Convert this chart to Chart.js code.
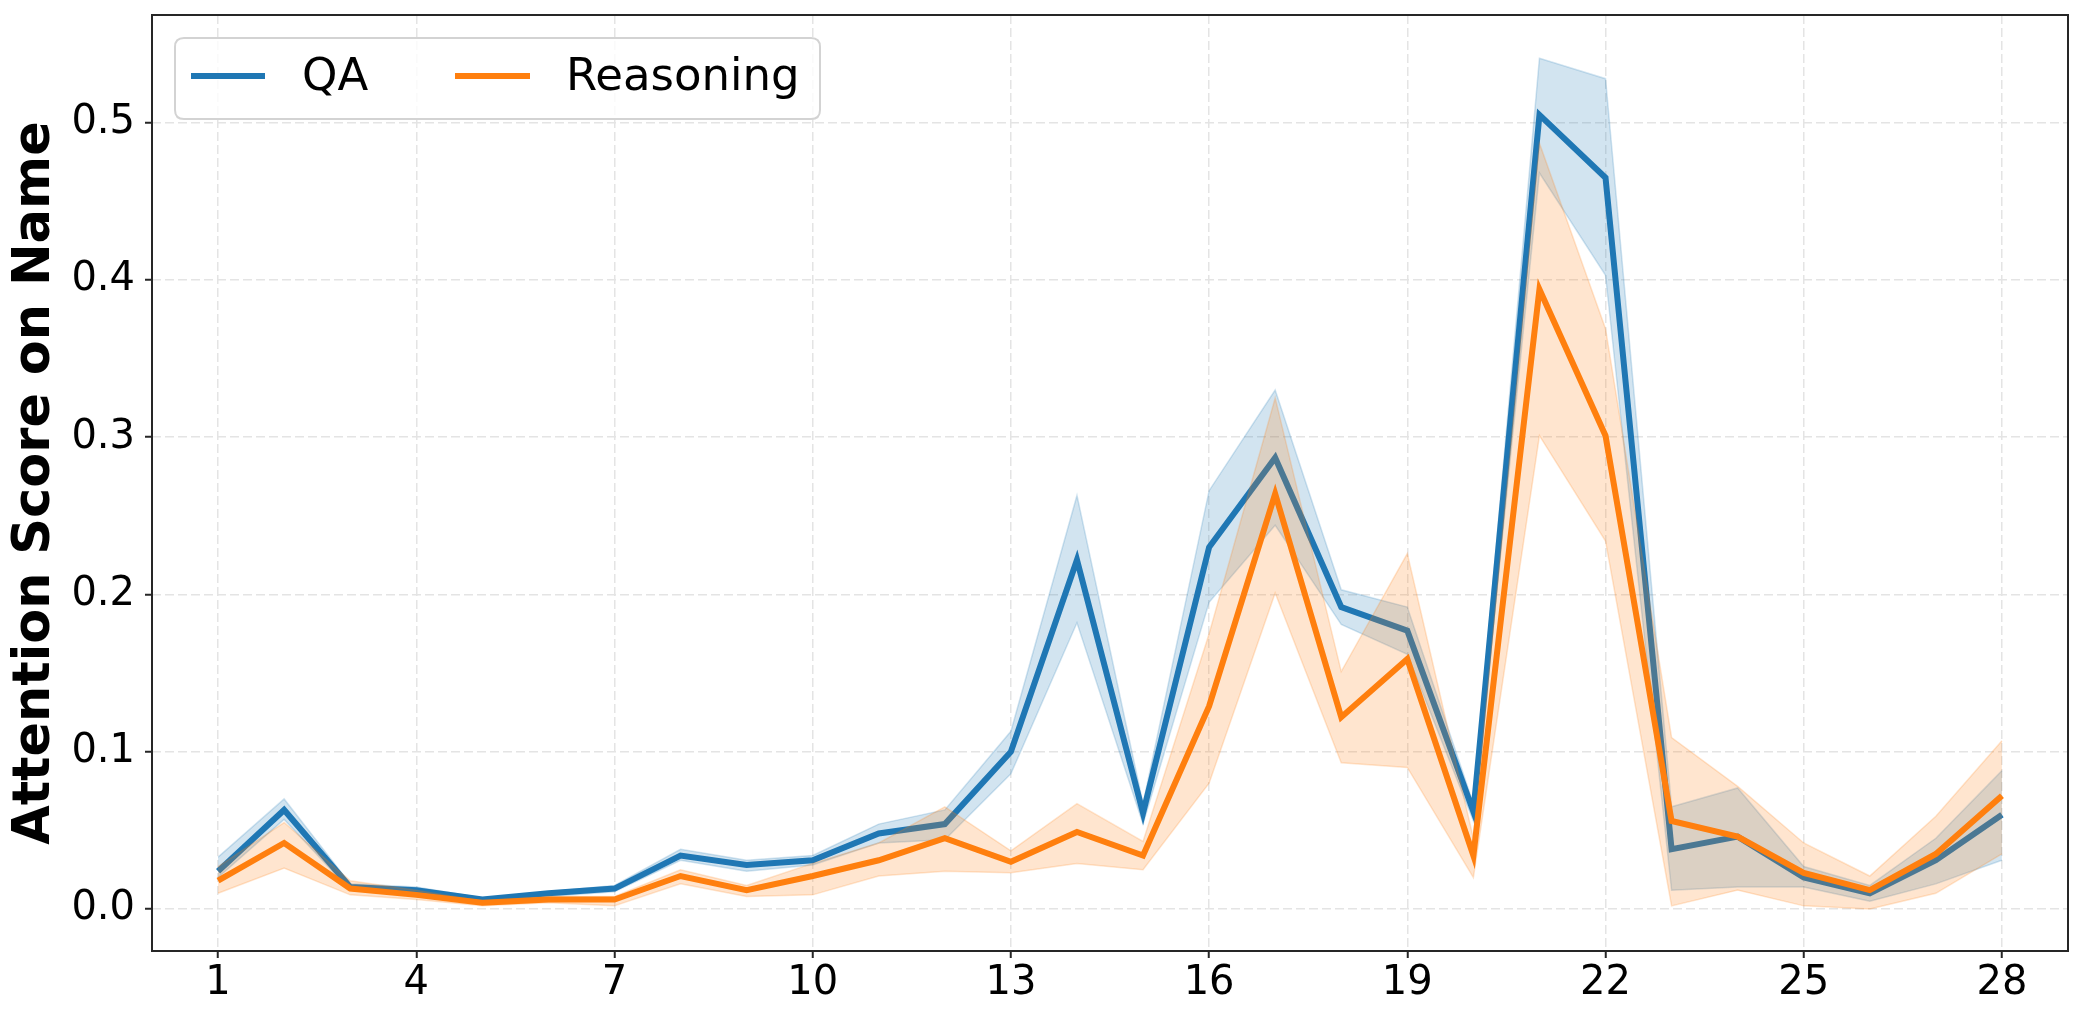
<!DOCTYPE html>
<html>
<head>
<meta charset="utf-8">
<script src="https://cdn.jsdelivr.net/npm/chart.js@4/dist/chart.umd.min.js"></script>
<style>
  html, body { margin: 0; padding: 0; background: #ffffff; }
  #wrap { width: 2083px; height: 1024px; position: relative; }
</style>
</head>
<body>
<div id="wrap"><canvas id="c" width="2083" height="1024"></canvas></div>
<script>
// ---------------- data ----------------
const layers = [1,2,3,4,5,6,7,8,9,10,11,12,13,14,15,16,17,18,19,20,21,22,23,24,25,26,27,28];
const xTickValues = [1,4,7,10,13,16,19,22,25,28];
const yTickValues = [0.0,0.1,0.2,0.3,0.4,0.5];
const seriesNames = ['QA', 'Reasoning'];

const qaMean  = [0.024,0.063,0.014,0.012,0.006,0.010,0.013,0.034,0.028,0.031,0.048,0.054,0.100,0.222,0.061,0.230,0.287,0.192,0.177,0.062,0.505,0.465,0.038,0.046,0.020,0.010,0.031,0.060];
const qaUpper = [0.033,0.070,0.016,0.014,0.007,0.011,0.015,0.038,0.031,0.034,0.054,0.063,0.113,0.263,0.067,0.266,0.330,0.203,0.192,0.067,0.541,0.528,0.065,0.077,0.027,0.015,0.045,0.088];
const qaLower = [0.020,0.057,0.012,0.010,0.004,0.008,0.011,0.031,0.024,0.028,0.042,0.044,0.086,0.182,0.054,0.195,0.244,0.181,0.162,0.056,0.468,0.403,0.012,0.014,0.014,0.005,0.016,0.031];

const reMean  = [0.018,0.042,0.013,0.009,0.004,0.006,0.006,0.021,0.012,0.021,0.031,0.045,0.030,0.049,0.034,0.129,0.264,0.122,0.159,0.034,0.394,0.301,0.056,0.046,0.023,0.012,0.035,0.072];
const reUpper = [0.027,0.055,0.018,0.012,0.005,0.008,0.008,0.025,0.015,0.029,0.042,0.065,0.037,0.067,0.043,0.175,0.325,0.151,0.226,0.045,0.487,0.369,0.109,0.078,0.042,0.021,0.059,0.107];
const reLower = [0.010,0.026,0.009,0.006,0.002,0.004,0.002,0.016,0.008,0.009,0.021,0.024,0.023,0.029,0.025,0.080,0.201,0.093,0.090,0.020,0.301,0.234,0.002,0.012,0.002,0.000,0.010,0.035];

// ---------------- styles ----------------
const BLUE = '#1f77b4', ORANGE = '#ff7f0e';
const BLUE_FILL = 'rgba(31,119,180,0.2)', ORANGE_FILL = 'rgba(255,127,14,0.2)';
const FONT = "'DejaVu Sans', 'Liberation Sans', sans-serif";
const LINE_W = 6;

const pts = (arr) => arr.map((v, i) => ({ x: layers[i], y: v }));

function band(lower, upper, fill, order) {
  return [
    { data: pts(lower), borderColor: fill, borderWidth: 1.5, backgroundColor: fill,
      pointRadius: 0, fill: false, order: order + 1, tension: 0 },
    { data: pts(upper), borderColor: fill, borderWidth: 1.5, backgroundColor: fill,
      pointRadius: 0, fill: '-1', order: order, tension: 0 }
  ];
}

const datasets = [
  ...band(qaLower, qaUpper, BLUE_FILL, 4),
  { label: seriesNames[0], data: pts(qaMean), borderColor: BLUE, borderWidth: LINE_W,
    pointRadius: 0, fill: false, order: 3, tension: 0, borderJoinStyle: 'miter' },
  ...band(reLower, reUpper, ORANGE_FILL, 1),
  { label: seriesNames[1], data: pts(reMean), borderColor: ORANGE, borderWidth: LINE_W,
    pointRadius: 0, fill: false, order: 0, tension: 0, borderJoinStyle: 'miter' }
];

const framePlugin = {
  id: 'frame',
  afterDraw(chart) {
    const { ctx, chartArea: a } = chart;
    ctx.save();
    ctx.strokeStyle = '#262626';
    ctx.lineWidth = 2;
    ctx.setLineDash([]);
    ctx.strokeRect(a.left, a.top, a.right - a.left, a.bottom - a.top);
    ctx.restore();
  }
};

const legendPlugin = {
  id: 'mplLegend',
  afterDraw(chart) {
    const ctx = chart.ctx;
    const bx = 175, by = 38, bw = 645, bh = 81, r = 9;
    ctx.save();
    ctx.beginPath();
    ctx.moveTo(bx + r, by);
    ctx.lineTo(bx + bw - r, by);
    ctx.quadraticCurveTo(bx + bw, by, bx + bw, by + r);
    ctx.lineTo(bx + bw, by + bh - r);
    ctx.quadraticCurveTo(bx + bw, by + bh, bx + bw - r, by + bh);
    ctx.lineTo(bx + r, by + bh);
    ctx.quadraticCurveTo(bx, by + bh, bx, by + bh - r);
    ctx.lineTo(bx, by + r);
    ctx.quadraticCurveTo(bx, by, bx + r, by);
    ctx.closePath();
    ctx.fillStyle = 'rgba(255,255,255,0.8)';
    ctx.fill();
    ctx.strokeStyle = '#d3d3d3';
    ctx.lineWidth = 2;
    ctx.stroke();

    const items = [
      { name: seriesNames[0], color: BLUE, x0: 191, x1: 265, tx: 302 },
      { name: seriesNames[1], color: ORANGE, x0: 455, x1: 530, tx: 566 }
    ];
    const ly = 76;
    items.forEach(it => {
      ctx.beginPath();
      ctx.strokeStyle = it.color;
      ctx.lineWidth = LINE_W;
      ctx.moveTo(it.x0, ly);
      ctx.lineTo(it.x1, ly);
      ctx.stroke();
      ctx.fillStyle = '#000000';
      ctx.font = "45px " + FONT;
      ctx.textBaseline = 'middle';
      ctx.textAlign = 'left';
      ctx.fillText(it.name, it.tx, ly + 2);
    });
    ctx.restore();
  }
};

new Chart(document.getElementById('c'), {
  type: 'line',
  data: { datasets },
  plugins: [framePlugin, legendPlugin],
  options: {
    responsive: false,
    devicePixelRatio: 1,
    animation: false,
    layout: { padding: { top: 15, right: 15, left: 0, bottom: 0 } },
    plugins: { legend: { display: false }, tooltip: { enabled: false } },
    scales: {
      x: {
        type: 'linear',
        min: 0, max: 29,
        afterBuildTicks: (s) => { s.ticks = xTickValues.map(v => ({ value: v })); },
        afterFit: (s) => { s.height = 73; s.paddingLeft = 0; s.paddingRight = 0; },
        ticks: {
          font: { family: FONT, size: 40 }, color: '#000000', padding: 2,
          maxRotation: 0, autoSkip: false,
          callback: (v) => String(v)
        },
        grid: { color: '#e4e4e4', lineWidth: 1.5, tickColor: '#262626', tickLength: 7,
                tickWidth: 2, tickBorderDash: [] },
        border: { display: false, dash: [9, 4] }
      },
      y: {
        type: 'linear',
        min: -0.0267, max: 0.5685,
        afterBuildTicks: (s) => { s.ticks = yTickValues.map(v => ({ value: v })); },
        afterFit: (s) => { s.width = 152; s.paddingTop = 0; s.paddingBottom = 0; },
        ticks: {
          font: { family: FONT, size: 40 }, color: '#000000', padding: 10,
          autoSkip: false,
          callback: (v) => Number(v).toFixed(1)
        },
        grid: { color: '#e4e4e4', lineWidth: 1.5, tickColor: '#262626', tickLength: 7,
                tickWidth: 2, tickBorderDash: [] },
        border: { display: false, dash: [9, 4] },
        title: {
          display: true, text: 'Attention Score on Name', color: '#000000',
          font: { family: FONT, size: 51, weight: 'bold' },
          padding: { top: 5, bottom: 0 }
        }
      }
    }
  }
});
</script>
</body>
</html>
